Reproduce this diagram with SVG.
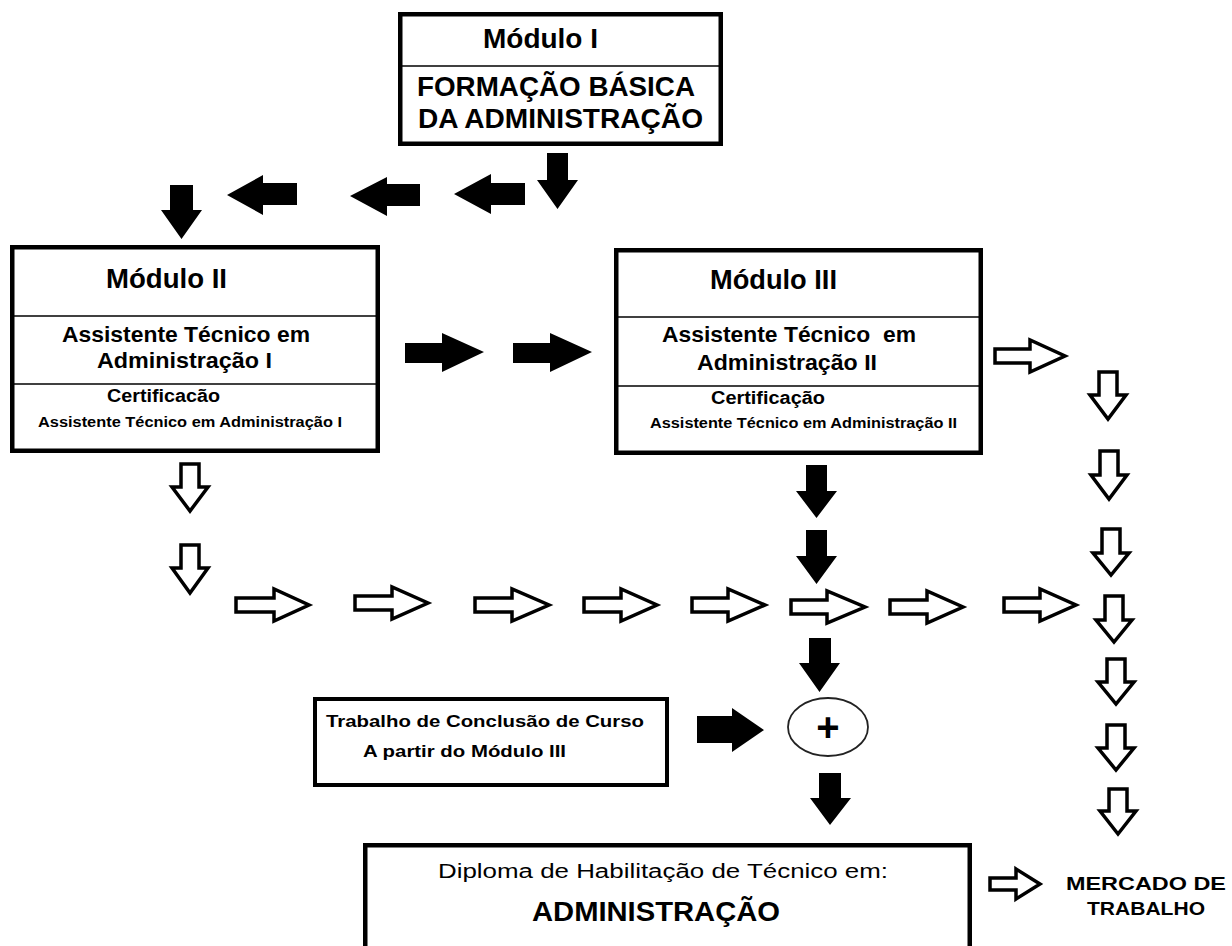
<svg xmlns="http://www.w3.org/2000/svg" width="1232" height="946" viewBox="0 0 1232 946">
<defs>
<style>
.box{fill:#fff;stroke:#000;stroke-width:4.5}
.dv{stroke:#000;stroke-width:1.5}
.fa{fill:#000}
.ha{fill:#fff;stroke:#000;stroke-width:3.5;stroke-linejoin:miter}
.t{font-family:"Liberation Sans",Arial,sans-serif;fill:#000}
.b{font-weight:bold}
</style>
</defs>
<rect width="1232" height="946" fill="#fff"/>

<g id="module1">
<rect class="box" x="400.25" y="14.25" width="320.5" height="129.5"/>
<line class="dv" x1="400" y1="66" x2="721" y2="66"/>
<text class="t b" x="483" y="48" font-size="27" textLength="115" lengthAdjust="spacingAndGlyphs">Módulo I</text>
<text class="t b" x="417" y="96" font-size="27" textLength="278" lengthAdjust="spacingAndGlyphs">FORMAÇÃO BÁSICA</text>
<text class="t b" x="418" y="128" font-size="27" textLength="285" lengthAdjust="spacingAndGlyphs">DA ADMINISTRAÇÃO</text>
</g>

<g id="module2">
<rect class="box" x="12.25" y="247.25" width="365.5" height="203.5"/>
<line class="dv" x1="12" y1="316" x2="378" y2="316"/>
<line class="dv" x1="12" y1="384" x2="378" y2="384"/>
<text class="t b" x="106" y="288" font-size="27" textLength="121" lengthAdjust="spacingAndGlyphs">Módulo II</text>
<text class="t b" x="62" y="342" font-size="21.5" textLength="248" lengthAdjust="spacingAndGlyphs">Assistente Técnico em</text>
<text class="t b" x="97" y="368" font-size="21.5" textLength="175" lengthAdjust="spacingAndGlyphs">Administração I</text>
<text class="t b" x="107" y="402" font-size="18" textLength="113" lengthAdjust="spacingAndGlyphs">Certificacão</text>
<text class="t b" x="38" y="427" font-size="14.5" textLength="304" lengthAdjust="spacingAndGlyphs">Assistente Técnico em Administração I</text>
</g>

<g id="module3">
<rect class="box" x="616.25" y="250.25" width="364.5" height="202.5"/>
<line class="dv" x1="616" y1="317" x2="981" y2="317"/>
<line class="dv" x1="616" y1="386" x2="981" y2="386"/>
<text class="t b" x="710" y="289" font-size="27" textLength="127" lengthAdjust="spacingAndGlyphs">Módulo III</text>
<text class="t b" x="662" y="342" font-size="21.5" textLength="254" lengthAdjust="spacingAndGlyphs" style="white-space:pre">Assistente Técnico  em</text>
<text class="t b" x="697" y="370" font-size="21.5" textLength="180" lengthAdjust="spacingAndGlyphs">Administração II</text>
<text class="t b" x="711" y="404" font-size="18" textLength="114" lengthAdjust="spacingAndGlyphs">Certificação</text>
<text class="t b" x="650" y="428" font-size="14.5" textLength="307" lengthAdjust="spacingAndGlyphs">Assistente Técnico em Administração II</text>
</g>

<g id="tcc">
<rect x="315" y="699" width="352" height="86" fill="#fff" stroke="#000" stroke-width="4"/>
<text class="t b" x="326" y="727" font-size="17" textLength="318" lengthAdjust="spacingAndGlyphs">Trabalho de Conclusão de Curso</text>
<text class="t b" x="363" y="757" font-size="17" textLength="203" lengthAdjust="spacingAndGlyphs">A partir do Módulo III</text>
</g>

<g id="plus">
<ellipse cx="828" cy="727" rx="40" ry="29" fill="#fff" stroke="#222" stroke-width="1.8"/>
<text class="t b" x="828" y="741" font-size="40" text-anchor="middle">+</text>
</g>

<g id="diploma">
<rect class="box" x="365.25" y="845.25" width="604.5" height="130"/>
<text class="t" x="438" y="878" font-size="20" textLength="450" lengthAdjust="spacingAndGlyphs">Diploma de Habilitação de Técnico em:</text>
<text class="t b" x="532" y="921" font-size="27" textLength="248" lengthAdjust="spacingAndGlyphs">ADMINISTRAÇÃO</text>
</g>

<g id="mercado">
<text class="t b" x="1066" y="890" font-size="19" textLength="160" lengthAdjust="spacingAndGlyphs">MERCADO DE</text>
<text class="t b" x="1087" y="915" font-size="19" textLength="118" lengthAdjust="spacingAndGlyphs">TRABALHO</text>
</g>

<g id="connectors">
<polygon class="fa" points="170,185 193,185 193,210 202,210 181.5,239 161,210 170,210"/>
<polygon class="fa" points="547,153 568,153 568,180 578,180 557.5,209 537,180 547,180"/>
<polygon class="fa" points="297,183 263,183 263,175 227,195 263,215 263,205 297,205"/>
<polygon class="fa" points="420,184 387,184 387,177 350,196 387,216 387,206 420,206"/>
<polygon class="fa" points="525,183 491,183 491,174 454,194 491,214 491,205 525,205"/>
<polygon class="fa" points="405,343 442,343 442,333 484,352 442,372 442,363 405,363"/>
<polygon class="fa" points="513,343 550,343 550,333 592,352 550,372 550,363 513,363"/>
<polygon class="fa" points="806,465 827,465 827,491 837,491 816.5,518 796,491 806,491"/>
<polygon class="fa" points="806,530 827,530 827,556 837,556 816.5,584 796,556 806,556"/>
<polygon class="fa" points="809,638 831,638 831,663 840,663 819.5,692 799,663 809,663"/>
<polygon class="fa" points="819,773 841,773 841,798 851,798 830,825 810,798 819,798"/>
<polygon class="fa" points="697,716 732,716 732,708 764,730 732,752 732,743 697,743"/>

<polygon class="ha" points="236,598 274,598 274,589 309,605 274,621 274,612 236,612"/>
<polygon class="ha" points="355,596 392,596 392,587 428,603 392,619 392,610 355,610"/>
<polygon class="ha" points="475,598 512,598 512,589 549,605 512,621 512,612 475,612"/>
<polygon class="ha" points="584,598 621,598 621,589 657,605 621,621 621,612 584,612"/>
<polygon class="ha" points="692,598 728,598 728,589 765,605 728,621 728,612 692,612"/>
<polygon class="ha" points="791,600 827,600 827,591 865,607 827,623 827,614 791,614"/>
<polygon class="ha" points="890,600 927,600 927,591 963,607 927,623 927,614 890,614"/>
<polygon class="ha" points="1004,598 1040,598 1040,589 1076,605 1040,621 1040,612 1004,612"/>
<polygon class="ha" points="995,349 1030,349 1030,340 1065,356 1030,372 1030,363 995,363"/>
<polygon class="ha" points="990,878 1016,878 1016,869 1040,884 1016,899 1016,890 990,890"/>

<polygon class="ha" points="181,464 199,464 199,487 208,487 190,511 172,487 181,487"/>
<polygon class="ha" points="181,545 199,545 199,568 208,568 190,593 172,568 181,568"/>
<polygon class="ha" points="1099,372 1117,372 1117,395 1126,395 1108,419 1090,395 1099,395"/>
<polygon class="ha" points="1100,451 1118,451 1118,475 1127,475 1109,499 1091,475 1100,475"/>
<polygon class="ha" points="1102,529 1120,529 1120,553 1129,553 1111,575 1093,553 1102,553"/>
<polygon class="ha" points="1105,596 1123,596 1123,620 1132,620 1114,642 1096,620 1105,620"/>
<polygon class="ha" points="1107,659 1125,659 1125,682 1134,682 1116,704 1098,682 1107,682"/>
<polygon class="ha" points="1107,725 1125,725 1125,748 1134,748 1116,770 1098,748 1107,748"/>
<polygon class="ha" points="1109,789 1127,789 1127,811 1136,811 1118,834 1100,811 1109,811"/>
</g>
</svg>
